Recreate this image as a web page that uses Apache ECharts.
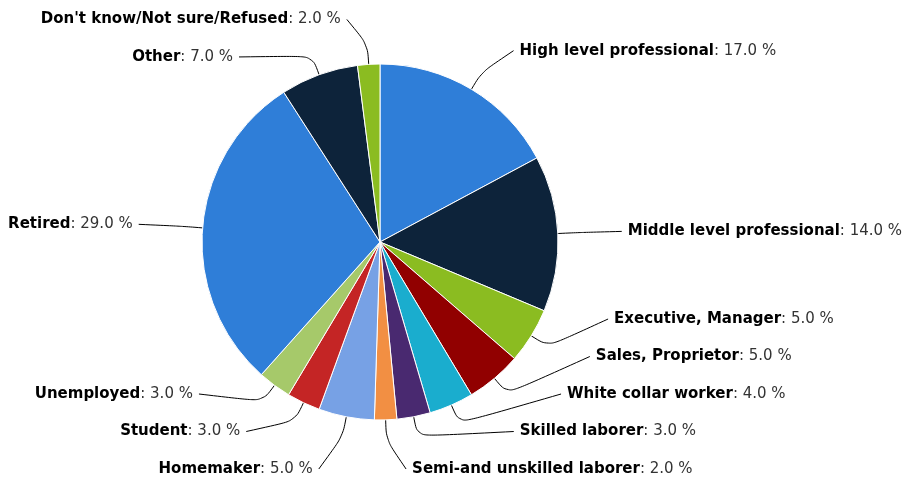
<!DOCTYPE html>
<html>
<head>
<meta charset="utf-8">
<script src="https://cdn.jsdelivr.net/npm/echarts@6/dist/echarts.min.js"></script>
<style>
  html, body { margin: 0; padding: 0; background: #fff; }
  #chart { width: 909px; height: 481px; }
</style>
</head>
<body>
<div id="chart"></div>
<script>
const categories = [
  "High level professional",
  "Middle level professional",
  "Executive, Manager",
  "Sales, Proprietor",
  "White collar worker",
  "Skilled laborer",
  "Semi-and unskilled laborer",
  "Homemaker",
  "Student",
  "Unemployed",
  "Retired",
  "Other",
  "Don't know/Not sure/Refused",
];
const shares = [17, 14, 5, 5, 4, 3, 2, 5, 3, 3, 29, 7, 2];

const PALETTE = [
  "#2f7ed8", "#0d233a", "#8bbc21", "#910000", "#1aadce",
  "#492970", "#f28f43", "#77a1e5", "#c42525", "#a6c96a",
];

// pie geometry (px)
const CX = 380;
const CY = 242;
const R = 178;

// label placement: labels sit on a ring outside the pie and are stacked
// per side so they never overlap (no "balancing" shift like the default)
const LABEL_RING = 45;   // how far out the natural label position is
const LABEL_RX = 220;    // ring used for the x of a stacked label
const LABEL_PAD = 28;
const LABEL_GAP = 37.5;  // row pitch between labels
const LABEL_TOP = 18;
const LABEL_BOTTOM = 469;

function computeLabelLayout() {
  const total = shares.reduce((a, b) => a + b, 0);
  let acc = 0;
  const items = shares.map((v, i) => {
    const theta = ((acc + v / 2) / total) * Math.PI * 2; // clockwise from top
    acc += v;
    const sin = Math.sin(theta);
    const cos = Math.cos(theta);
    return {
      i,
      right: sin >= 0,
      sin,
      cos,
      naturalY: CY - (R + LABEL_RING) * cos,
    };
  });

  [true, false].forEach((side) => {
    const list = items.filter((d) => d.right === side).sort((a, b) => a.naturalY - b.naturalY);
    let last = -Infinity;
    list.forEach((d) => {
      d.y = Math.max(d.naturalY, LABEL_TOP, last + LABEL_GAP);
      last = d.y;
    });
    let next = Infinity;
    for (let k = list.length - 1; k >= 0; k--) {
      const d = list[k];
      d.y = Math.min(d.y, LABEL_BOTTOM, next - LABEL_GAP);
      next = d.y;
    }
  });

  return items.map((d) => {
    const dir = d.right ? 1 : -1;
    const dy = d.y - CY;
    const ringDx = Math.sqrt(Math.max(0, LABEL_RX * LABEL_RX - dy * dy)) + LABEL_PAD;
    const natDx = Math.abs((R + LABEL_RING) * d.sin) + 25;
    const textX = CX + dir * Math.max(ringDx, natDx);
    const p0 = [CX + R * d.sin, CY - R * d.cos];
    const p1 = [CX + (R + 20) * d.sin, CY - (R + 20) * d.cos];
    const p2 = [textX - dir * 6, d.y];
    return {
      x: textX,
      y: d.y,
      align: d.right ? "left" : "right",
      verticalAlign: "middle",
      labelLinePoints: [p0, p1, p2],
    };
  });
}

const labelLayout = computeLabelLayout();

const chart = echarts.init(document.getElementById("chart"), null, { renderer: "canvas" });

chart.setOption({
  animation: false,
  backgroundColor: "#fff",
  color: PALETTE,
  series: [
    {
      type: "pie",
      center: [CX, CY],
      radius: R,
      startAngle: 90,
      clockwise: true,
      avoidLabelOverlap: false,
      data: categories.map((name, i) => ({ name, value: shares[i] })),
      itemStyle: { borderColor: "#fff", borderWidth: 1 },
      label: {
        show: true,
        fontFamily: "DejaVu Sans",
        fontSize: 15,
        lineHeight: 20,
        color: "#333",
        formatter: (p) => `{n|${p.name}}: ${p.value.toFixed(1)} %`,
        rich: {
          n: { fontFamily: "DejaVu Sans", fontSize: 15, lineHeight: 20, fontWeight: "bold", color: "#000" },
        },
      },
      labelLine: {
        show: true,
        length: 20,
        length2: 20,
        smooth: 0.35,
        lineStyle: { color: "#000", width: 1 },
      },
      labelLayout: (params) => labelLayout[params.dataIndex],
      emphasis: { scale: false },
    },
  ],
});
</script>
</body>
</html>
